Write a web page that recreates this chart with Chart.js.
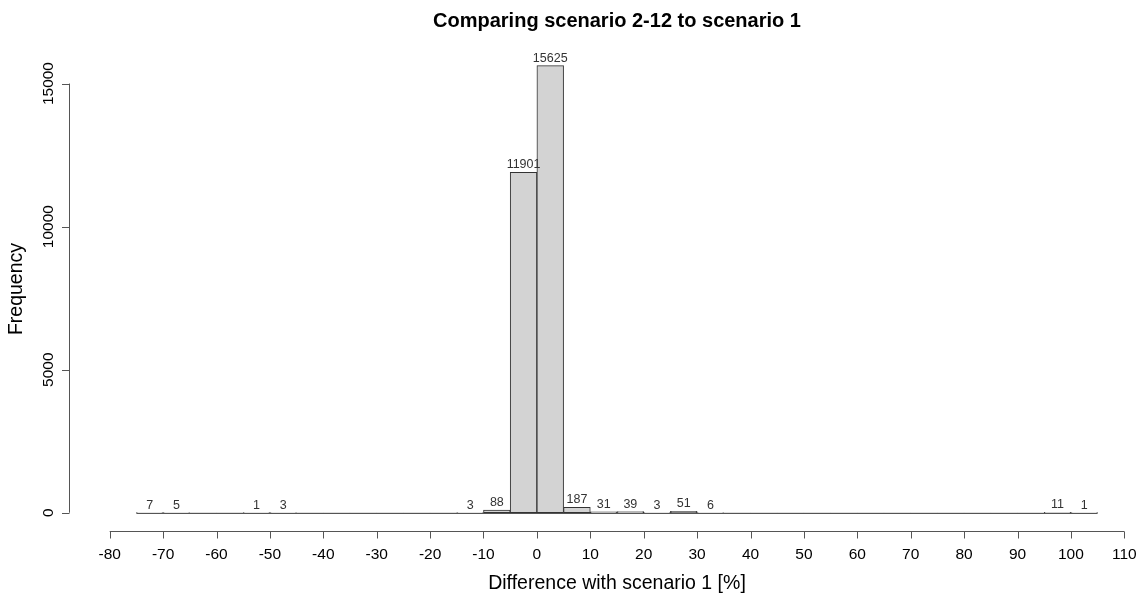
<!DOCTYPE html>
<html>
<head>
<meta charset="utf-8">
<title>Comparing scenario 2-12 to scenario 1</title>
<script src="https://cdn.jsdelivr.net/npm/chart.js@4"></script>
<style>
  html, body { margin: 0; padding: 0; background: #ffffff; }
  #chart { display: block; }
</style>
</head>
<body>
<canvas id="chart" width="1143" height="594"></canvas>
<script>
// histogram bins (left edge, width 5) and counts
const binStarts = [-75, -70, -65, -60, -55, -50, -45, -40, -35, -30, -25, -20, -15, -10, -5, 0, 5, 10,
  15, 20, 25, 30, 35, 40, 45, 50, 55, 60, 65, 70, 75, 80, 85, 90, 95, 100];
const binWidth = 5;
const counts = [7, 5, 0, 0, 1, 3, 0, 0, 0, 0, 0, 0, 3, 88, 11901, 15625, 187, 31,
  39, 3, 51, 6, 0, 0, 0, 0, 0, 0, 0, 0, 0, 0, 0, 0, 11, 1];
const xTicks = [-80, -70, -60, -50, -40, -30, -20, -10, 0, 10, 20, 30, 40, 50, 60, 70, 80, 90, 100, 110];
const yTicks = [0, 5000, 10000, 15000];

const titleText = 'Comparing scenario 2-12 to scenario 1';
const xTitle = 'Difference with scenario 1 [%]';
const yTitle = 'Frequency';
const FONT = '"Liberation Sans", Arial, Helvetica, sans-serif';

const histPoints = binStarts.map((start, i) => ({ x: start + binWidth / 2, y: counts[i] }));

// R-style axes, bin labels and titles
const rStyle = {
  id: 'rStyle',
  afterDatasetsDraw(chart) {
    const { ctx } = chart;
    const xs = chart.scales.x;
    const ys = chart.scales.y;
    ctx.save();

    // zero-height bins show as a flat line
    const y0 = Math.round(ys.getPixelForValue(0)) + 0.5;
    ctx.strokeStyle = '#555';
    ctx.lineWidth = 1;
    ctx.beginPath();
    ctx.moveTo(xs.getPixelForValue(binStarts[0]), y0);
    ctx.lineTo(xs.getPixelForValue(binStarts[binStarts.length - 1] + binWidth), y0);
    ctx.stroke();

    // count labels
    ctx.fillStyle = '#333';
    ctx.font = '12.5px ' + FONT;
    ctx.textAlign = 'center';
    ctx.textBaseline = 'alphabetic';
    const meta = chart.getDatasetMeta(0);
    meta.data.forEach((bar, i) => {
      if (!counts[i]) return;
      ctx.fillText(String(counts[i]), bar.x, ys.getPixelForValue(counts[i]) - 4);
    });
    ctx.restore();
  },
  afterDraw(chart) {
    const { ctx } = chart;
    const xs = chart.scales.x;
    const ys = chart.scales.y;
    const area = chart.chartArea;
    ctx.save();
    ctx.strokeStyle = '#555';
    ctx.lineWidth = 1;

    // x axis
    const ax = Math.round(area.bottom) + 0.5;
    ctx.beginPath();
    ctx.moveTo(xs.getPixelForValue(xTicks[0]), ax);
    ctx.lineTo(xs.getPixelForValue(xTicks[xTicks.length - 1]), ax);
    xTicks.forEach((t) => {
      const px = Math.round(xs.getPixelForValue(t)) + 0.5;
      ctx.moveTo(px, ax);
      ctx.lineTo(px, ax + 7);
    });
    ctx.stroke();
    ctx.fillStyle = '#000';
    ctx.font = '15.5px ' + FONT;
    ctx.textAlign = 'center';
    ctx.textBaseline = 'alphabetic';
    xTicks.forEach((t) => {
      ctx.fillText(String(t), xs.getPixelForValue(t), 559);
    });

    // y axis
    const ay = 69.5;
    ctx.beginPath();
    ctx.moveTo(ay, ys.getPixelForValue(yTicks[0]));
    ctx.lineTo(ay, ys.getPixelForValue(yTicks[yTicks.length - 1]));
    yTicks.forEach((t) => {
      const py = Math.round(ys.getPixelForValue(t)) + 0.5;
      ctx.moveTo(ay, py);
      ctx.lineTo(ay - 7.5, py);
    });
    ctx.stroke();
    yTicks.forEach((t) => {
      ctx.save();
      ctx.translate(52.5, ys.getPixelForValue(t));
      ctx.rotate(-Math.PI / 2);
      ctx.fillText(String(t), 0, 0);
      ctx.restore();
    });

    // titles
    const cx = xs.getPixelForValue(15);
    ctx.font = 'bold 20px ' + FONT;
    ctx.fillText(titleText, cx, 27);
    ctx.font = '19.5px ' + FONT;
    ctx.fillText(xTitle, cx, 589);
    ctx.save();
    ctx.translate(21.5, 289);
    ctx.rotate(-Math.PI / 2);
    ctx.fillText(yTitle, 0, 0);
    ctx.restore();

    ctx.restore();
  }
};

new Chart(document.getElementById('chart'), {
  type: 'bar',
  data: {
    datasets: [{
      label: 'Frequency',
      data: histPoints,
      backgroundColor: '#d3d3d3',
      borderColor: '#333',
      borderWidth: (c) => (counts[c.dataIndex] ? 1 : 0),
      borderSkipped: false,
      barPercentage: 1,
      categoryPercentage: 1,
    }],
  },
  options: {
    responsive: false,
    animation: false,
    devicePixelRatio: 1,
    layout: { padding: { left: 109.7, right: 18.7, top: 29.2, bottom: 62.7 } },
    scales: {
      x: { type: 'linear', min: -80, max: 110, offset: false, display: false },
      y: { min: -650, max: 16900, display: false },
    },
    plugins: {
      legend: { display: false },
      tooltip: { enabled: false },
      title: { display: false },
    },
  },
  plugins: [rStyle],
});
</script>
</body>
</html>
